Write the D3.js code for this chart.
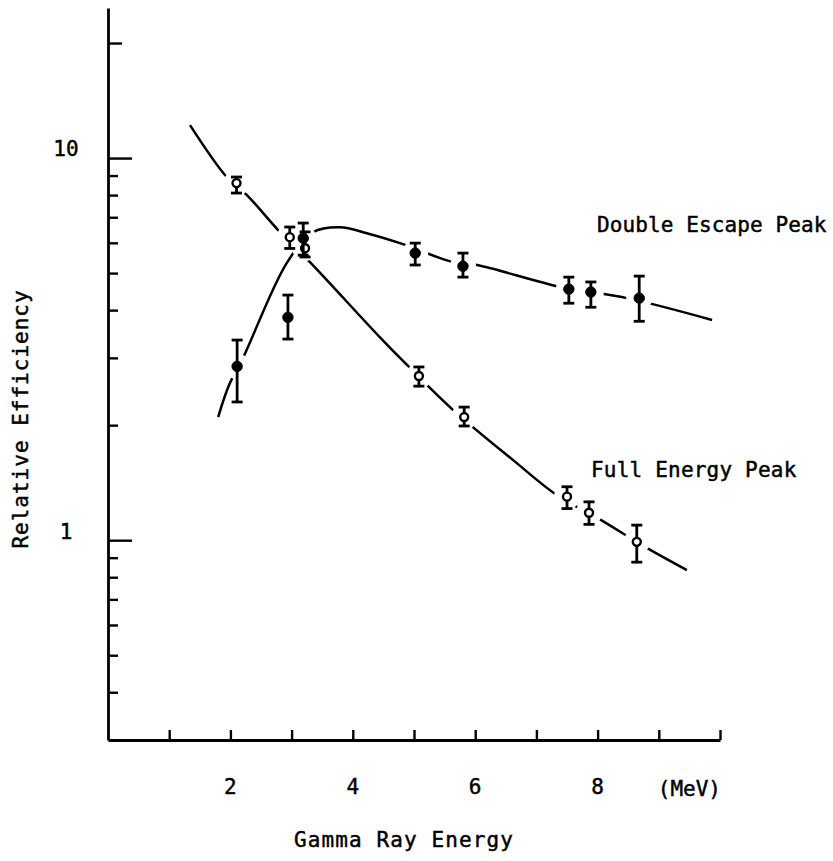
<!DOCTYPE html>
<html><head><meta charset="utf-8">
<script src="https://cdn.jsdelivr.net/npm/d3@7/dist/d3.min.js"></script>
<style>
body{margin:0;background:#fff}
text{font-family:"DejaVu Sans Mono","Liberation Mono",monospace;fill:#000;stroke:#000;stroke-width:0.45px}
</style>
</head><body>
<svg id="c" width="833" height="861"></svg>
<script>
// ---- data ----
// Full Energy Peak (open circles)
const fullX  = [2.10, 2.97, 3.22, 5.08, 5.82, 7.50, 7.86, 8.64];
const fullY  = [8.60, 6.21, 5.81, 2.69, 2.10, 1.30, 1.18, 0.99];
const fullHi = [8.92, 6.60, 6.41, 2.84, 2.23, 1.38, 1.26, 1.095];
const fullLo = [8.10, 5.80, 5.51, 2.53, 1.99, 1.21, 1.10, 0.876];
// Double Escape Peak (filled circles)
const desX  = [2.11, 2.94, 3.19, 5.02, 5.80, 7.53, 7.89, 8.68];
const desY  = [2.85, 3.83, 6.17, 5.64, 5.21, 4.54, 4.46, 4.30];
const desHi = [3.34, 4.38, 6.76, 5.99, 5.64, 4.88, 4.74, 4.91];
const desLo = [2.30, 3.36, 5.57, 5.25, 4.88, 4.17, 4.07, 3.74];
// hand-drawn fitted curves
const fullCurveX = [1.34, 1.94, 2.27, 2.78, 3.30, 4.44, 4.89, 5.64, 6.62, 7.34, 8.01, 8.81, 9.46];
const fullCurveY = [12.2, 8.92, 8.00, 6.48, 5.34, 3.40, 2.87, 2.19, 1.62, 1.31, 1.14, 0.953, 0.835];
const desCurveX = [1.80, 1.98, 2.21, 2.92, 3.35, 3.79, 4.23, 4.77, 5.64, 6.03, 7.39, 8.48, 9.87];
const desCurveY = [2.10, 2.55, 3.01, 5.31, 6.40, 6.59, 6.36, 5.99, 5.34, 5.25, 4.60, 4.30, 3.77];
// axes
const xTicks = [1,2,3,4,5,6,7,8,9,10];
const xTickLabels = [2,4,6,8];
const xUnit = "(MeV)";
const yMinorTicks = [9,8,7,6,5,4,3,2,0.9,0.8,0.7,0.6,0.5,0.4];
const yMidTicks = [20];
const yMajorTicks = [10,1];
const xTitle = "Gamma Ray Energy";
const yTitle = "Relative Efficiency";
const label1 = "Double Escape Peak";
const label2 = "Full Energy Peak";

// ---- scales ----
const svg = d3.select("#c");
const x = d3.scaleLinear().domain([0,10]).range([108,720]);
const y = d3.scaleLog().domain([0.3,24.7]).range([740,8]);
const X0 = x(0), Y0 = y(0.3);
const SW = 2.5;

// ---- axes ----
function styleAxis(g){
  g.select(".domain").attr("stroke","#000").attr("stroke-width",2.8);
  g.selectAll(".tick line").attr("stroke","#000").attr("stroke-width",2.4);
}
svg.append("g").attr("transform",`translate(${X0},0)`)
  .call(d3.axisLeft(y).tickValues(yMinorTicks).tickSizeInner(-10).tickSizeOuter(0).tickFormat(""))
  .call(styleAxis);
svg.append("g").attr("transform",`translate(${X0},0)`)
  .call(d3.axisLeft(y).tickValues(yMidTicks).tickSizeInner(-14).tickSizeOuter(0).tickFormat(""))
  .call(styleAxis).select(".domain").remove();
const yMaj = svg.append("g").attr("transform",`translate(${X0},0)`)
  .call(d3.axisLeft(y).tickValues(yMajorTicks).tickSizeInner(-24).tickSizeOuter(0).tickFormat(d3.format("d")))
  .call(styleAxis);
yMaj.select(".domain").remove();
yMaj.selectAll(".tick text").attr("x",-42).attr("dy","-0.1em").attr("text-anchor","middle")
  .attr("font-size",21).attr("font-family","DejaVu Sans Mono");

svg.append("g").attr("transform",`translate(0,${Y0})`)
  .call(d3.axisBottom(x).tickValues(xTicks).tickSizeInner(-10).tickSizeOuter(0).tickFormat(""))
  .call(styleAxis);

svg.selectAll("text.xl").data(xTickLabels).join("text").attr("class","xl")
  .attr("x",d=>x(d)).attr("y",794).attr("text-anchor","middle").attr("font-size",21).text(d=>d);
svg.append("text").attr("x",x(9.5)).attr("y",796).attr("text-anchor","middle")
  .attr("font-size",21).text(xUnit);

svg.append("text").attr("x",404).attr("y",847).attr("text-anchor","middle")
  .attr("font-size",21).attr("letter-spacing",1.1).text(xTitle);
svg.append("text").attr("transform","translate(28,419) rotate(-90)").attr("text-anchor","middle")
  .attr("font-size",21).attr("letter-spacing",1).text(yTitle);

svg.append("text").attr("x",597).attr("y",232).attr("font-size",21).attr("letter-spacing",0.1).text(label1);
svg.append("text").attr("x",591).attr("y",477).attr("font-size",21).attr("letter-spacing",0.2).text(label2);

// ---- curves ----
const line = d3.line().x(d=>x(d[0])).y(d=>y(d[1])).curve(d3.curveCatmullRom.alpha(0.5));
svg.append("path").datum(d3.zip(fullCurveX, fullCurveY)).attr("d",line)
  .attr("fill","none").attr("stroke","#000").attr("stroke-width",SW);
svg.append("path").datum(d3.zip(desCurveX, desCurveY)).attr("d",line)
  .attr("fill","none").attr("stroke","#000").attr("stroke-width",SW);

// gaps around markers
const allPts = d3.zip(fullX, fullY).concat(d3.zip(desX, desY));
svg.selectAll("circle.gap").data(allPts).join("circle").attr("class","gap")
  .attr("cx",d=>x(d[0])).attr("cy",d=>y(d[1])).attr("r",13).attr("fill","#fff");

// ---- error bars + markers ----
function drawSeries(xs, ys, hi, lo, filled){
  const g = svg.append("g");
  const data = xs.map((v,i)=>({x:v,y:ys[i],hi:hi[i],lo:lo[i]}));
  g.selectAll("line.eb").data(data).join("line")
    .attr("x1",d=>x(d.x)).attr("x2",d=>x(d.x)).attr("y1",d=>y(d.hi)).attr("y2",d=>y(d.lo))
    .attr("stroke","#000").attr("stroke-width",2.8);
  ["hi","lo"].forEach(k=>{
    g.selectAll("line.cap"+k).data(data).join("line")
      .attr("x1",d=>x(d.x)-5.5).attr("x2",d=>x(d.x)+5.5).attr("y1",d=>y(d[k])).attr("y2",d=>y(d[k]))
      .attr("stroke","#000").attr("stroke-width",2.8);
  });
  g.selectAll("circle").data(data).join("circle")
    .attr("cx",d=>x(d.x)).attr("cy",d=>y(d.y))
    .attr("r",filled?5.2:4)
    .attr("fill",filled?"#000":"#fff").attr("stroke","#000").attr("stroke-width",filled?1:2.4);
}
drawSeries(fullX, fullY, fullHi, fullLo, false);
drawSeries(desX, desY, desHi, desLo, true);
</script>
</body></html>
